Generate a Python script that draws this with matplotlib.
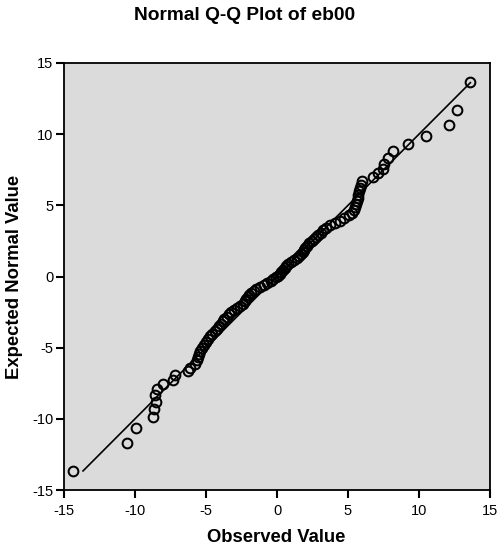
import matplotlib
matplotlib.use("Agg")
import matplotlib.pyplot as plt

observed = [-14.35, -10.58, -9.93, -8.71, -8.64, -8.52, -8.57, -8.43, -8.05, -7.35,
            -7.16, -6.25, -6.10, -5.75, -5.62, -5.55, -5.48, -5.42, -5.30, -5.15,
            -5.02, -4.88, -4.72, -4.55, -4.40, -4.25, -4.10, -3.95, -3.82, -3.70,
            -3.55, -3.40, -3.25, -3.05, -2.80, -2.60, -2.38, -2.25, -2.15, -2.05,
            -1.95, -1.85, -1.65, -1.45, -1.20, -0.95, -0.70, -0.45, -0.25, -0.05,
            0.08, 0.20, 0.30, 0.42, 0.55, 0.65, 0.80, 1.00, 1.20, 1.40,
            1.58, 1.72, 1.82, 1.90, 2.00, 2.10, 2.25, 2.45, 2.62, 2.78,
            2.92, 3.08, 3.25, 3.45, 3.70, 4.10, 4.45, 4.75, 5.10, 5.25,
            5.40, 5.50, 5.58, 5.62, 5.68, 5.72, 5.78, 5.85, 5.92, 5.96,
            6.78, 7.09, 7.49, 7.56, 7.84, 8.15, 9.20, 10.47, 12.13, 12.68, 13.59]
expected = [-13.65, -11.72, -10.64, -9.87, -9.29, -8.80, -8.36, -7.93, -7.58, -7.25,
            -6.95, -6.66, -6.40, -6.15, -5.90, -5.66, -5.43, -5.21, -5.00, -4.80,
            -4.60, -4.40, -4.21, -4.02, -3.84, -3.66, -3.48, -3.31, -3.15, -2.98,
            -2.82, -2.66, -2.50, -2.35, -2.20, -2.05, -1.90, -1.75, -1.60, -1.45,
            -1.31, -1.17, -1.03, -0.89, -0.75, -0.62, -0.48, -0.34, -0.21, -0.07,
            0.07, 0.21, 0.34, 0.48, 0.62, 0.75, 0.89, 1.03, 1.17, 1.31,
            1.45, 1.60, 1.74, 1.88, 2.03, 2.17, 2.32, 2.47, 2.62, 2.77,
            2.93, 3.09, 3.25, 3.42, 3.59, 3.76, 3.93, 4.11, 4.30, 4.48,
            4.68, 4.88, 5.08, 5.30, 5.52, 5.75, 6.00, 6.20, 6.43, 6.69,
            6.97, 7.29, 7.58, 7.93, 8.36, 8.84, 9.29, 9.87, 10.64, 11.72, 13.64]
line_x = [-13.66, 13.62]
line_y = [-13.66, 13.62]
ticks = [-15, -10, -5, 0, 5, 10, 15]

plt.rcParams['font.family'] = ['Liberation Sans', 'DejaVu Sans']

W, H = 503, 548
fig = plt.figure(figsize=(W / 100, H / 100), dpi=100)
ax = fig.add_axes([64 / W, 1 - 490 / H, (490 - 64) / W, (490 - 63) / H])
ax.set_facecolor('#dbdbdb')

ax.plot(line_x, line_y, color='black', lw=1.2, zorder=2)
ax.plot(observed, expected, linestyle='none', marker='o', markersize=7,
        markerfacecolor='none', markeredgecolor='black', markeredgewidth=1.45, zorder=3)

ax.set_xlim(-15, 15)
ax.set_ylim(-15, 15)
ax.set_xticks(ticks)
ax.set_yticks(ticks)
ax.set_xticklabels([str(t) for t in ticks])
ax.set_yticklabels([str(t) for t in ticks])
ax.tick_params(direction='out', length=5.5, width=1.5, labelsize=10.5, colors='black')
ax.tick_params(axis='x', pad=4.5)
ax.tick_params(axis='y', pad=2)
for s in ax.spines.values():
    s.set_linewidth(1.3)
    s.set_color('black')

fig.text(245 / W, 1 - 16 / H, 'Normal Q-Q Plot of eb00', ha='center', va='center',
         fontsize=13.8, fontweight='bold')
fig.text(276 / W, 1 - 537 / H, 'Observed Value', ha='center', va='center',
         fontsize=13.3, fontweight='bold')
fig.text(15 / W, 1 - 277 / H, 'Expected Normal Value', ha='center', va='center',
         rotation=90, fontsize=13.3, fontweight='bold')

fig.savefig('out.png', dpi=100)
